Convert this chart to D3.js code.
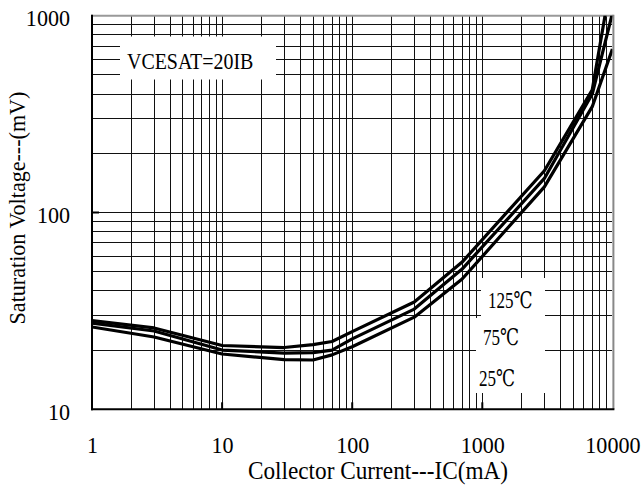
<!DOCTYPE html>
<html>
<head>
<meta charset="utf-8">
<script src="https://cdn.jsdelivr.net/npm/d3@7"></script>
<style>
  html, body { margin: 0; padding: 0; background: #fff; }
  svg { display: block; }
</style>
</head>
<body>
<svg id="chart" width="644" height="486" font-family="Liberation Serif"></svg>
<script>
// Collector current sample points (mA)
const currentMA = [1, 3, 10, 30, 50, 70, 100, 300, 700, 3000, 7000, 10000];
// Saturation voltage (mV) at each temperature
const vce125 = [28.2, 25.9, 21.1, 20.6, 21.3, 22.1, 24.8, 35.1, 56.0, 163, 420, 1650];
const vce75  = [27.4, 25.0, 20.0, 19.3, 19.4, 20.0, 22.8, 32.3, 51.6, 149, 400, 1030];
const vce25  = [26.2, 23.3, 19.1, 17.9, 17.8, 18.9, 20.8, 29.4, 45.9, 135, 345, 677];
const seriesNames = ["125℃", "75℃", "25℃"];
// Axis tick labels
const xTickValues = [1, 10, 100, 1000, 10000];
const yTickValues = [10, 100, 1000];
const conditionLabel = "VCESAT=20IB";
const xTitle = "Collector Current---IC(mA)";
const yTitle = "Saturation Voltage---(mV)";

const SERIF = "Liberation Serif";
const svg = d3.select("#chart");
const L = 92, R = 612.4, T = 15.7, B = 409.3;

const x = d3.scaleLog().domain([1, 10000]).range([L, R]);
const y = d3.scaleLog().domain([10, 1000]).range([B, T]);

// narrow the serif face to the compact lettering of the sheet
function condense(sel, k) {
  sel.each(function () {
    const w = this.getComputedTextLength();
    d3.select(this).attr("textLength", w * k).attr("lengthAdjust", "spacingAndGlyphs");
  });
}

// log grid: every 1..9 multiple of each decade
const grid = svg.append("g").attr("stroke", "#111").attr("stroke-width", 1).attr("shape-rendering", "crispEdges");
grid.selectAll("line.v").data(x.ticks().filter(v => v > 1 && v < 10000)).join("line")
  .attr("class", "v")
  .attr("x1", d => x(d)).attr("x2", d => x(d)).attr("y1", T).attr("y2", B);
grid.selectAll("line.h").data(y.ticks().filter(v => v > 10 && v < 1000)).join("line")
  .attr("class", "h")
  .attr("y1", d => y(d)).attr("y2", d => y(d)).attr("x1", L).attr("x2", R);

// short inner ticks on the decades
const ticks = svg.append("g").attr("stroke", "#000").attr("stroke-width", 2);
ticks.selectAll("line.xt").data(xTickValues.slice(1, -1)).join("line")
  .attr("x1", d => x(d)).attr("x2", d => x(d)).attr("y1", B - 7).attr("y2", B);
ticks.selectAll("line.yt").data(yTickValues.slice(1, -1)).join("line")
  .attr("y1", d => y(d)).attr("y2", d => y(d)).attr("x1", L).attr("x2", L + 7);

// frame
svg.append("line").attr("x1", L - 1).attr("x2", R + 1).attr("y1", T).attr("y2", T)
  .attr("stroke", "#999").attr("stroke-width", 2);
svg.append("line").attr("x1", R + 1).attr("x2", R + 1).attr("y1", T - 1).attr("y2", B)
  .attr("stroke", "#888").attr("stroke-width", 2);
svg.append("line").attr("x1", L).attr("x2", L).attr("y1", T - 1).attr("y2", B + 1)
  .attr("stroke", "#000").attr("stroke-width", 2);
svg.append("line").attr("x1", L - 1).attr("x2", R + 2).attr("y1", B).attr("y2", B)
  .attr("stroke", "#000").attr("stroke-width", 2);

// condition label on a white patch
svg.append("rect").attr("x", 120).attr("y", 36.5).attr("width", 156).attr("height", 43).attr("fill", "#fff");
svg.append("text").attr("x", 127).attr("y", 68.5).attr("font-size", 24).attr("font-family", SERIF)
  .text(conditionLabel).call(condense, 0.83);

// temperature labels on white patches
svg.append("rect").attr("x", 481).attr("y", 278).attr("width", 64).attr("height", 115).attr("fill", "#fff");
svg.append("rect").attr("x", 476).attr("y", 318).attr("width", 69).attr("height", 75).attr("fill", "#fff");
const labelPos = [[488, 308], [483, 345], [479, 386]];
svg.selectAll("text.temp").data(seriesNames).join("text")
  .attr("class", "temp")
  .attr("x", (d, i) => labelPos[i][0]).attr("y", (d, i) => labelPos[i][1])
  .attr("font-size", 23).attr("font-family", "Liberation Serif, DejaVu Serif")
  .text(d => d).call(condense, 0.74);

// curves
svg.append("clipPath").attr("id", "plotClip").append("rect")
  .attr("x", L).attr("y", T).attr("width", R - L).attr("height", B - T);
const line = d3.line().x(d => x(d[0])).y(d => y(d[1]));
const curves = [vce125, vce75, vce25].map(vals => currentMA.map((c, i) => [c, vals[i]]));
svg.append("g").attr("clip-path", "url(#plotClip)")
  .selectAll("path").data(curves).join("path")
  .attr("d", line)
  .attr("fill", "none").attr("stroke", "#000").attr("stroke-width", 3.2)
  .attr("stroke-linejoin", "round");

// axis labels
const xAxis = d3.axisBottom(x).tickValues(xTickValues).tickFormat(d3.format("d")).tickSize(0).tickPadding(0);
const gx = svg.append("g").attr("transform", `translate(0,${B})`).call(xAxis);
gx.attr("font-family", SERIF).attr("font-size", 24);
gx.select(".domain").remove();
gx.selectAll("text").attr("dy", null).attr("y", 44).call(condense, 0.92);

const yAxis = d3.axisLeft(y).tickValues(yTickValues).tickFormat(d3.format("d")).tickSize(0).tickPadding(0);
const gy = svg.append("g").attr("transform", `translate(70,0)`).call(yAxis);
gy.attr("font-family", SERIF).attr("font-size", 24);
gy.select(".domain").remove();
gy.selectAll("text").attr("x", 0).attr("dy", "0.42em").call(condense, 0.92);

svg.append("text").attr("x", 378).attr("y", 479).attr("text-anchor", "middle")
  .attr("font-size", 25).attr("font-family", SERIF)
  .text(xTitle).call(condense, 0.93);
svg.append("text").attr("transform", "translate(25,208) rotate(-90)").attr("text-anchor", "middle")
  .attr("font-size", 24).attr("font-family", SERIF)
  .text(yTitle).call(condense, 0.92);
</script>
</body>
</html>
